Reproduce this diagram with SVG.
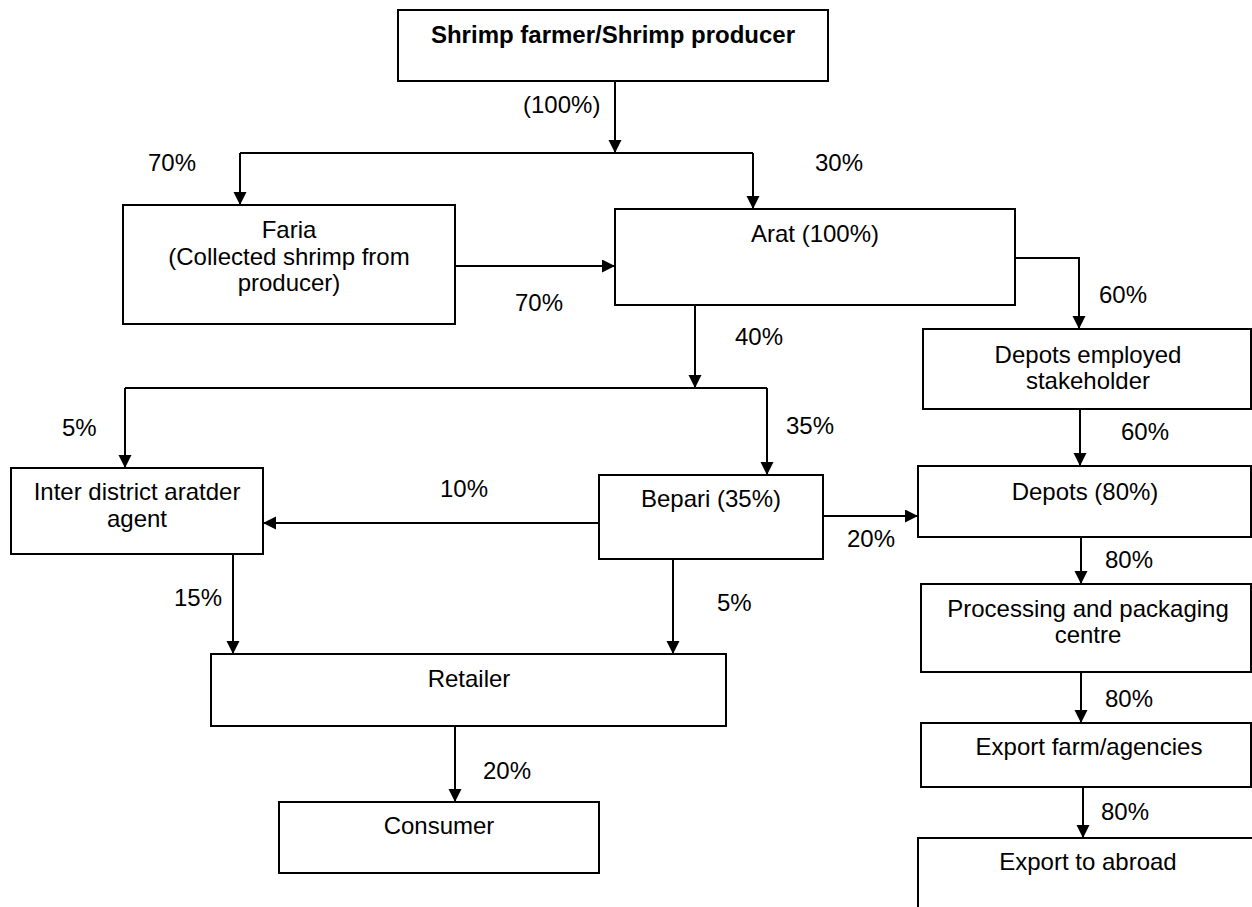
<svg xmlns="http://www.w3.org/2000/svg" width="1252" height="907" viewBox="0 0 1252 907">
<defs>
<marker id="ah" markerUnits="userSpaceOnUse" markerWidth="14" markerHeight="14" refX="13" refY="6.5" orient="auto">
<path d="M0,0 L13,6.5 L0,13 z" fill="#000"/>
</marker>
<style>
.box{fill:#fff;stroke:#000;stroke-width:2}
.t{font-family:"Liberation Sans",Arial,sans-serif;font-size:24px;fill:#000}
.c{text-anchor:middle}
.b{font-weight:bold}
.ln{fill:none;stroke:#000;stroke-width:2}
.ar{fill:none;stroke:#000;stroke-width:2;marker-end:url(#ah)}
</style>
</defs>
<rect width="1252" height="907" fill="#fff"/>
<g id="connectors">
<line class="ar" x1="615" y1="81" x2="615" y2="153"/>
<polyline class="ln" points="240,153 753,153"/>
<line class="ar" x1="240" y1="153" x2="240" y2="205"/>
<line class="ar" x1="753" y1="153" x2="753" y2="209"/>
<line class="ar" x1="455" y1="266" x2="615" y2="266"/>
<polyline class="ar" points="1015,258 1079,258 1079,329"/>
<line class="ar" x1="695" y1="305" x2="695" y2="388"/>
<polyline class="ln" points="125,388 767,388"/>
<line class="ar" x1="125" y1="388" x2="125" y2="468"/>
<line class="ar" x1="767" y1="388" x2="767" y2="475"/>
<line class="ar" x1="1080" y1="409" x2="1080" y2="466"/>
<line class="ar" x1="599" y1="523" x2="263" y2="523"/>
<line class="ar" x1="823" y1="516" x2="918" y2="516"/>
<line class="ar" x1="1081" y1="537" x2="1081" y2="584"/>
<line class="ar" x1="1081" y1="672" x2="1081" y2="723"/>
<line class="ar" x1="1083" y1="787" x2="1083" y2="838"/>
<line class="ar" x1="233" y1="554" x2="233" y2="654"/>
<line class="ar" x1="673" y1="559" x2="673" y2="654"/>
<line class="ar" x1="455" y1="726" x2="455" y2="802"/>
<g class="t">
<text x="523" y="113">(100%)</text>
<text x="148" y="171">70%</text>
<text x="815" y="171">30%</text>
<text x="515" y="311">70%</text>
<text x="1099" y="303">60%</text>
<text x="735" y="345">40%</text>
<text x="62" y="436">5%</text>
<text x="786" y="434">35%</text>
<text x="1121" y="440">60%</text>
<text x="440" y="497">10%</text>
<text x="847" y="547">20%</text>
<text x="1105" y="568">80%</text>
<text x="1105" y="707">80%</text>
<text x="1101" y="820">80%</text>
<text x="174" y="606">15%</text>
<text x="717" y="611">5%</text>
<text x="483" y="779">20%</text>
</g>
</g>
<g id="producer"><rect class="box" x="398" y="10" width="430" height="71"/><text class="t c b" x="613" y="43">Shrimp farmer/Shrimp producer</text></g>
<g id="faria"><rect class="box" x="123" y="205" width="332" height="119"/><text class="t c" x="289" y="238">Faria</text><text class="t c" x="289" y="265">(Collected shrimp from</text><text class="t c" x="289" y="291">producer)</text></g>
<g id="arat"><rect class="box" x="615" y="209" width="400" height="96"/><text class="t c" x="815" y="242">Arat (100%)</text></g>
<g id="depots-employed"><rect class="box" x="923" y="329" width="328" height="80"/><text class="t c" x="1088" y="363">Depots employed</text><text class="t c" x="1088" y="389">stakeholder</text></g>
<g id="inter-district"><rect class="box" x="11" y="468" width="252" height="86"/><text class="t c" x="137" y="500">Inter district aratder</text><text class="t c" x="137" y="527">agent</text></g>
<g id="bepari"><rect class="box" x="599" y="475" width="224" height="84"/><text class="t c" x="711" y="507">Bepari (35%)</text></g>
<g id="depots"><rect class="box" x="918" y="466" width="333" height="71"/><text class="t c" x="1085" y="500">Depots (80%)</text></g>
<g id="processing"><rect class="box" x="921" y="584" width="330" height="88"/><text class="t c" x="1088" y="617">Processing and packaging</text><text class="t c" x="1088" y="643">centre</text></g>
<g id="export-farm"><rect class="box" x="921" y="723" width="330" height="64"/><text class="t c" x="1089" y="755">Export farm/agencies</text></g>
<g id="export-abroad"><rect class="box" x="918" y="838" width="400" height="100"/><text class="t c" x="1088" y="870">Export to abroad</text></g>
<g id="retailer"><rect class="box" x="211" y="654" width="515" height="72"/><text class="t c" x="469" y="687">Retailer</text></g>
<g id="consumer"><rect class="box" x="279" y="802" width="320" height="71"/><text class="t c" x="439" y="834">Consumer</text></g>
</svg>
